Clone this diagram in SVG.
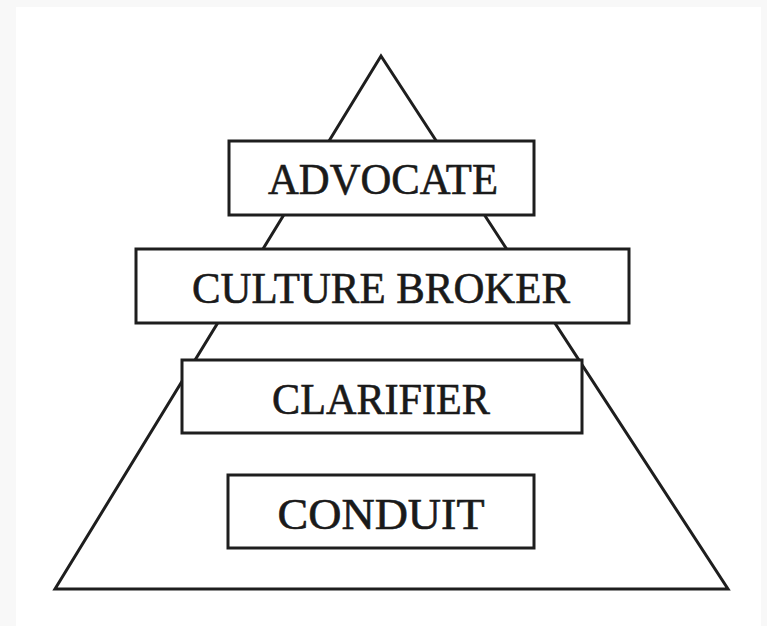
<svg xmlns="http://www.w3.org/2000/svg" width="767" height="626" viewBox="0 0 767 626">
<style>
.box{fill:#fff;stroke:#1e1e1e;stroke-width:3}
.lbl{font-family:"Liberation Serif","Times New Roman",serif;font-size:44px;fill:#1a1a1a;stroke:#1a1a1a;stroke-width:0.6;text-anchor:middle}
</style>
<rect x="0" y="0" width="767" height="626" fill="#f8f8f8"/>
<rect x="16" y="7" width="745" height="619" fill="#fff"/>
<g id="connectors">
<polygon points="381,56 55,589 728,589" fill="none" stroke="#1e1e1e" stroke-width="3" stroke-linejoin="miter"/>
</g>
<g id="advocate">
<rect class="box" x="229" y="141" width="305" height="74"/>
<text class="lbl" x="383" y="194" textLength="230" lengthAdjust="spacingAndGlyphs">ADVOCATE</text>
</g>
<g id="culture-broker">
<rect class="box" x="136" y="249" width="493" height="74"/>
<text class="lbl" x="381" y="303" textLength="378" lengthAdjust="spacingAndGlyphs">CULTURE BROKER</text>
</g>
<g id="clarifier">
<rect class="box" x="182" y="360" width="400" height="73"/>
<text class="lbl" x="381" y="414" textLength="218" lengthAdjust="spacingAndGlyphs">CLARIFIER</text>
</g>
<g id="conduit">
<rect class="box" x="228" y="475" width="306" height="73"/>
<text class="lbl" x="381" y="529" textLength="207" lengthAdjust="spacingAndGlyphs">CONDUIT</text>
</g>
</svg>
